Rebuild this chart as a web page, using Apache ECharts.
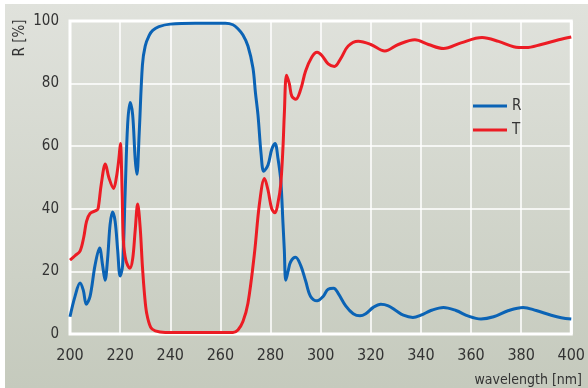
<!DOCTYPE html>
<html>
<head>
<meta charset="utf-8">
<script src="https://cdn.jsdelivr.net/npm/echarts@6/dist/echarts.min.js"></script>
<style>html,body{margin:0;padding:0;background:#fff}#c{width:588px;height:388px}</style>
</head>
<body>
<div id="c"></div>
<script>
const xTicks = [200,220,240,260,280,300,320,340,360,380,400];
const yTicks = [0,20,40,60,80,100];
const rWavelength = [200,202,204,205.3,206.5,208,210,211.8,213,214,215,216,217,218,219,220,221,222,223,224,225,226,226.7,227.6,228.9,230,231.6,233,235.5,240,250,262,265,267,269,271,273,274,275,276.3,277.3,279,280.5,281.8,283,284.1,285,285.5,286.1,287,288,290,292,294,296,298.6,301,303,305.2,307,310,313,315.7,318,321,324,327,330,333,336.8,340,344,349,354,359,364,369,375,380.8,386,392,396,400];
const rValues = [5.5,12,16.3,14,9.5,12,22,27.5,22,17.2,24,35,39,36,27,18.5,22,45,67,74,70,56,51,64,86,92,95.4,97,98.2,99,99.3,99.3,98.8,97.5,95.5,92,85,77,70,57,52,54,59,60.9,56,49,35,27,17.2,20,23,24.5,22,17,12,10.6,12,14.3,14.6,13,9,6.5,5.8,6.5,8.5,9.5,9,7.5,6,5.3,6,7.5,8.5,7.5,5.7,4.8,5.5,7.5,8.5,7.5,6,5.2,4.8];
const tWavelength = [200,202,204,205.5,206.6,208,210.5,211.2,212.5,214.1,215.5,217.4,218.5,219.5,220.1,220.8,221.3,222.3,223.9,225,226,227,228,228.9,229.8,230.6,232.2,234,238,265,267,269,271,273.6,275.6,277.6,279,280.5,281.8,283,284.1,285,285.5,286.4,287.5,288.5,290.1,292,294,296.5,298.6,300.5,303,305.5,308,311,315,320,325.6,331,337.6,343,349,356,364.4,371,377,382,388,395,400];
const tValues = [23.6,25,26.5,31,36,38.5,39.5,40,48,54.3,50,46.5,50,56,60.9,45,30,23.5,21,24,33,41.5,34,21.5,12,6.6,2.1,1,0.5,0.5,1.3,4,9.8,25.8,41.7,49.7,46,40,38.7,42,48,60,70,82.7,80,76,75,78,84,88.5,90,89,86.3,85.5,88,92,93.5,92.5,90.4,92.5,94,92.5,91.2,93,94.7,93.5,91.8,91.5,92.5,94,94.9];

const font = '"Liberation Sans Narrow","DejaVu Sans Condensed","Roboto",sans-serif';
const chart = echarts.init(document.getElementById('c'));
chart.setOption({
  backgroundColor: '#ffffff',
  animation: false,
  graphic: [
    {type:'rect', z:-10, shape:{x:5,y:4,width:583,height:384}, style:{fill:new echarts.graphic.LinearGradient(0,0,0,1,[{offset:0,color:'#e0e2dc'},{offset:1,color:'#c5cabd'}])}},
    {type:'text', x:582, y:380, style:{text:'wavelength [nm]', font:'14px '+font, fill:'#333', align:'right', verticalAlign:'middle'}},
    {type:'text', x:20, y:38, rotation:Math.PI/2, style:{text:'R [%]', font:'15px '+font, fill:'#333', align:'center', verticalAlign:'middle'}}
  ],
  grid: {left:70, right:10, top:21, bottom:54, show:true, borderColor:'#ffffff', borderWidth:3, backgroundColor:'transparent'},
  legend: {
    orient:'vertical', left:473, top:98, padding:0, itemWidth:34, itemHeight:3, itemGap:8,
    icon:'rect',
    textStyle:{fontFamily:font, fontSize:15, color:'#333', lineHeight:16},
    data:['R','T']
  },
  xAxis: {
    type:'value', min:200, max:400, interval:20,
    axisLine:{show:false}, axisTick:{show:false},
    axisLabel:{fontFamily:font, fontSize:16, color:'#333', margin:14, formatter:v=>xTicks.includes(v)?String(v):''},
    splitLine:{show:true, lineStyle:{color:'#ffffff', width:1.5}}
  },
  yAxis: {
    type:'value', min:0, max:100, interval:20,
    axisLine:{show:false}, axisTick:{show:false},
    axisLabel:{fontFamily:font, fontSize:15, color:'#333', margin:11, formatter:v=>yTicks.includes(v)?String(v):''},
    splitLine:{show:true, lineStyle:{color:'#ffffff', width:1.5}}
  },
  series: [
    {name:'R', type:'line', smooth:0.35, symbol:'none', color:'#0b63b5', lineStyle:{width:3, color:'#0b63b5'}, data:rWavelength.map((x,i)=>[x,rValues[i]])},
    {name:'T', type:'line', smooth:0.35, symbol:'none', color:'#ec1c24', lineStyle:{width:3, color:'#ec1c24'}, data:tWavelength.map((x,i)=>[x,tValues[i]])}
  ]
});
</script>
</body>
</html>
